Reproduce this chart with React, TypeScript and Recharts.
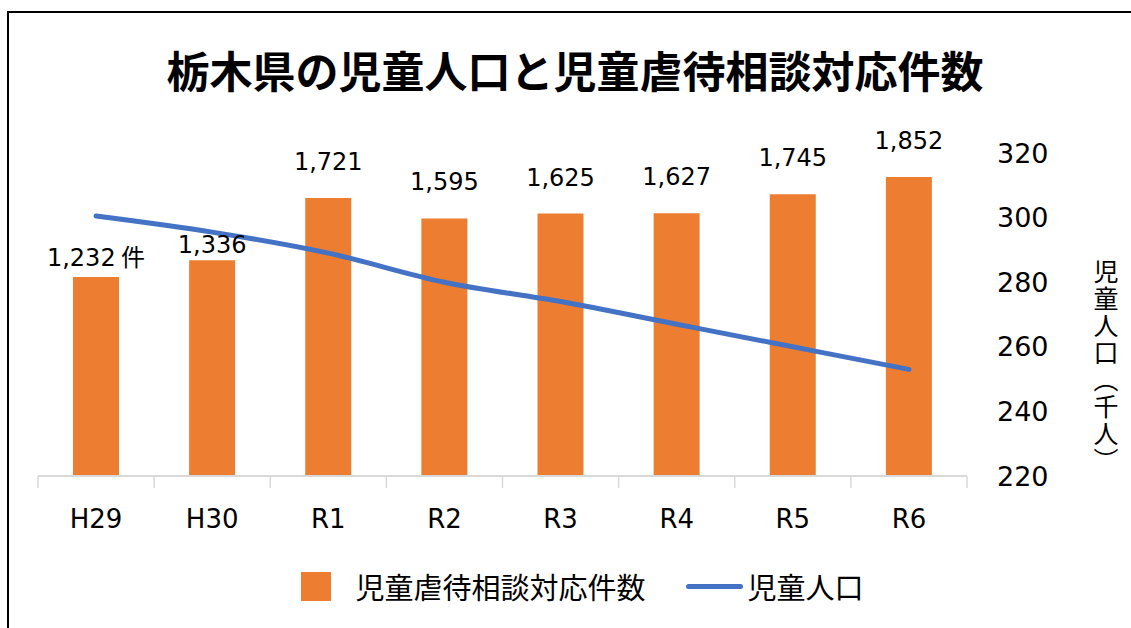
import { Bar, ComposedChart, LabelList, Legend, Line, XAxis, YAxis } from "recharts";

const years = ["H29", "H30", "R1", "R2", "R3", "R4", "R5", "R6"];
const consultations = [1232, 1336, 1721, 1595, 1625, 1627, 1745, 1852];
const childPopulation = [300.5, 295.5, 289, 280, 274, 267, 260, 253];
const populationTicks = [220, 240, 260, 280, 300, 320];

const data = years.map((year, i) => ({
  year,
  consultations: consultations[i],
  population: childPopulation[i]
}));

const JP = '"Noto Sans CJK JP", sans-serif';
const NUM = '"DejaVu Sans", sans-serif';
const YEAR_GAP = 34;

function YearTick(props: any) {
  const { x, y, payload, index, visibleTicksCount, width } = props;
  const half = payload.offset > 0 ? payload.offset : width / visibleTicksCount / 2;
  const axisY = y - YEAR_GAP;
  const isLast = index === visibleTicksCount - 1;
  return (
    <g>
      <line x1={x - half} x2={x - half} y1={axisY} y2={axisY + 12} stroke="#d9d9d9" strokeWidth={1.5} />
      {isLast ? <line x1={x + half} x2={x + half} y1={axisY} y2={axisY + 12} stroke="#d9d9d9" strokeWidth={1.5} /> : null}
      <text x={x} y={y} dy="0.71em" textAnchor="middle" fontFamily={NUM} fontSize={26} fill="#000">
        {payload.value}
      </text>
    </g>
  );
}

function CountLabel(props: any) {
  const { x, y, width, value, index } = props;
  // the first two labels sit closer to their bars in the original
  const lift = index === 0 ? 11 : index === 1 ? 7 : 28;
  return (
    <text x={x + width / 2} y={y - lift} textAnchor="middle" fontFamily={NUM} fontSize={24} fill="#000">
      {Number(value).toLocaleString("en-US")}
      {index === 0 ? <tspan fontFamily={JP}> 件</tspan> : null}
    </text>
  );
}

function PopulationAxisLabel(props: any) {
  const { viewBox } = props;
  const x = viewBox.x + viewBox.width + 45;
  const y = viewBox.y + viewBox.height / 2 + 52;
  return (
    <text
      x={x}
      y={y}
      textAnchor="middle"
      fontFamily={JP}
      fontSize={25}
      fill="#000"
      letterSpacing={2}
      style={{ writingMode: "vertical-rl" }}
    >
      児童人口（千人）
    </text>
  );
}

function LegendContent(props: any) {
  const items = (props.payload || []).slice().sort((a: any, b: any) => (a.type === "line" ? 1 : 0) - (b.type === "line" ? 1 : 0));
  return (
    <div style={{ display: "flex", justifyContent: "center", alignItems: "center", height: 40, fontFamily: JP, fontSize: 29, color: "#000", paddingLeft: 66 }}>
      {items.map((item: any, i: number) => (
        <div key={item.value} style={{ display: "flex", alignItems: "center", marginLeft: i === 0 ? 0 : 40 }}>
          {item.type === "line" ? (
            <span style={{ width: 57, height: 5, background: item.color, borderRadius: 3, marginRight: 5 }} />
          ) : (
            <span style={{ width: 30, height: 29, background: item.color, marginRight: 24 }} />
          )}
          <span>{item.value}</span>
        </div>
      ))}
    </div>
  );
}

export default function App() {
  return (
    <div style={{ position: "absolute", left: 0, top: 0, width: 1131, height: 628, background: "#fff", overflow: "hidden" }}>
      <div
        style={{
          position: "absolute",
          left: 7,
          top: 11,
          width: 1140,
          height: 640,
          border: "2px solid #000",
          boxSizing: "border-box"
        }}
      />
      <div
        style={{
          position: "absolute",
          left: 0,
          width: 1150,
          top: 41,
          textAlign: "center",
          fontFamily: JP,
          fontWeight: 700,
          fontSize: 43,
          lineHeight: "56px",
          color: "#000"
        }}
      >
        栃木県の児童人口と児童虐待相談対応件数
      </div>
      <div style={{ position: "absolute", left: 0, top: 0 }}>
        <ComposedChart width={1131} height={628} data={data} margin={{ top: 153, right: 70, bottom: 22, left: 38 }}>
          <XAxis
            xAxisId="cat"
            dataKey="year"
            height={90}
            axisLine={{ stroke: "#d9d9d9", strokeWidth: 2 }}
            tickLine={false}
            tickSize={0}
            tickMargin={YEAR_GAP}
            tick={<YearTick />}
          />
          <YAxis yAxisId="count" hide domain={[0, 2000]} />
          <YAxis
            yAxisId="pop"
            orientation="right"
            domain={[220, 320]}
            ticks={populationTicks}
            width={94}
            axisLine={false}
            tickLine={false}
            tickSize={0}
            tickMargin={30}
            tick={{ fontFamily: NUM, fontSize: 27, fill: "#000" }}
            label={<PopulationAxisLabel />}
          />
          <Legend verticalAlign="bottom" content={<LegendContent />} />
          <Bar
            xAxisId="cat"
            yAxisId="count"
            dataKey="consultations"
            name="児童虐待相談対応件数"
            fill="#ED7D31"
            barSize={46}
            isAnimationActive={false}
          >
            <LabelList dataKey="consultations" content={<CountLabel />} />
          </Bar>
          <Line
            xAxisId="cat"
            yAxisId="pop"
            dataKey="population"
            name="児童人口"
            type="monotone"
            stroke="#4472C4"
            strokeWidth={5}
            strokeLinecap="round"
            dot={false}
            legendType="line"
            isAnimationActive={false}
          />
        </ComposedChart>
      </div>
    </div>
  );
}
